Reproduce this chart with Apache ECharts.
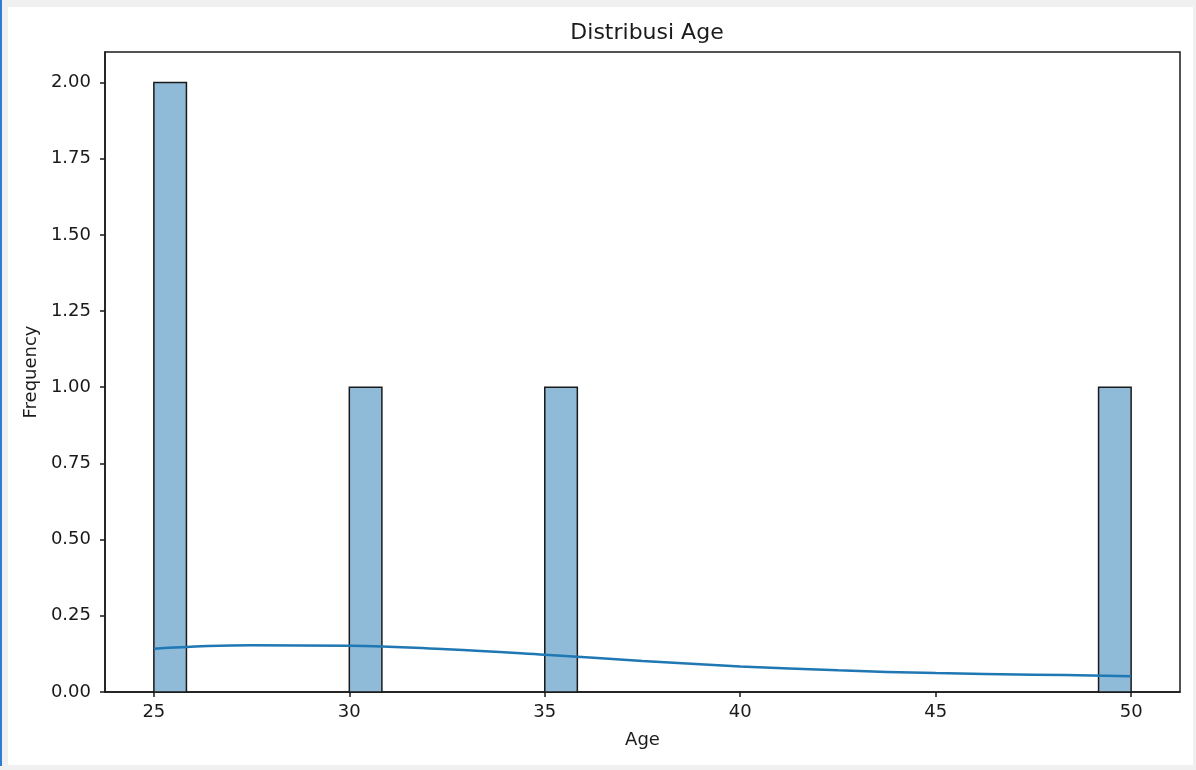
<!DOCTYPE html>
<html>
<head>
<meta charset="utf-8">
<script src="https://cdn.jsdelivr.net/npm/echarts@6/dist/echarts.min.js"></script>
<style>
  html, body { margin: 0; padding: 0; background: #f0f0f0; }
  #wrap { position: relative; width: 1196px; height: 770px; background: #f0f0f0; overflow: hidden; }
  #edge { position: absolute; left: 0; top: 0; width: 2px; height: 766px; background: #2f7dd1; }
  #panel { position: absolute; left: 8px; top: 7px; width: 1185px; height: 758px; background: #ffffff; }
  #chart { position: absolute; left: 0; top: 0; width: 1196px; height: 770px; }
</style>
</head>
<body>
<div id="wrap">
  <div id="edge"></div>
  <div id="panel"></div>
  <div id="chart"></div>
</div>
<script>
// Histogram bins (30 bins of width 25/30 between 25 and 50); only non-empty bins listed
const binLeft  = [25, 30, 35, 49.1667];
const binRight = [25.8333, 30.8333, 35.8333, 50];
const counts   = [2, 1, 1, 1];

// KDE curve
const kdeX = [25, 27.5, 30, 32.5, 35, 37.5, 40, 42.5, 45, 47.5, 50];
const kdeY = [0.142, 0.153, 0.152, 0.140, 0.122, 0.102, 0.084, 0.071, 0.062, 0.057, 0.052];

// Tick labels
const xTicks = [25, 30, 35, 40, 45, 50];
const yTicks = [0, 0.25, 0.5, 0.75, 1.0, 1.25, 1.5, 1.75, 2.0];

const titleText = 'Distribusi Age';
const xName = 'Age';
const yName = 'Frequency';

const FONT = 'DejaVu Sans';
const INK = '#1a1a1a';

const histData = binLeft.map((l, i) => [l, binRight[i], counts[i]]);
const kdeData = kdeX.map((x, i) => [x, kdeY[i]]);

const chart = echarts.init(document.getElementById('chart'), null, { renderer: 'canvas' });
chart.setOption({
  backgroundColor: 'transparent',
  animation: false,
  title: {
    text: titleText,
    left: 642,
    top: 17,
    textAlign: 'center',
    textStyle: { fontFamily: FONT, fontSize: 22, fontWeight: 'normal', color: INK }
  },
  grid: {
    left: 105, top: 52, width: 1075, height: 640,
    show: true, borderColor: INK, borderWidth: 1.5, backgroundColor: 'transparent',
    containLabel: false
  },
  xAxis: {
    type: 'value',
    min: 23.75, max: 51.25,
    name: xName,
    nameLocation: 'middle',
    nameGap: 39,
    nameTextStyle: { fontFamily: FONT, fontSize: 18, color: INK },
    axisLine: { show: true, onZero: false, lineStyle: { color: INK, width: 1.5 } },
    axisTick: { show: true, inside: false, length: 5, customValues: xTicks, lineStyle: { color: INK, width: 1.5 } },
    axisLabel: { show: true, margin: 11, customValues: xTicks, fontFamily: FONT, fontSize: 18, color: INK,
                 formatter: v => String(v) },
    splitLine: { show: false }
  },
  yAxis: {
    type: 'value',
    min: 0, max: 2.1,
    name: yName,
    nameLocation: 'middle',
    nameGap: 62,
    nameTextStyle: { fontFamily: FONT, fontSize: 18, color: INK },
    axisLine: { show: true, onZero: false, lineStyle: { color: INK, width: 1.5 } },
    axisTick: { show: true, inside: false, length: 5, customValues: yTicks, lineStyle: { color: INK, width: 1.5 } },
    axisLabel: { show: true, margin: 14, customValues: yTicks, fontFamily: FONT, fontSize: 18, color: INK,
                 formatter: v => Number(v).toFixed(2) },
    splitLine: { show: false }
  },
  series: [
    {
      type: 'custom',
      name: 'hist',
      data: histData,
      encode: { x: [0, 1], y: 2 },
      z: 2,
      renderItem: function (params, api) {
        const p0 = api.coord([api.value(0), api.value(2)]);
        const p1 = api.coord([api.value(1), 0]);
        return {
          type: 'rect',
          shape: { x: p0[0], y: p0[1], width: p1[0] - p0[0], height: p1[1] - p0[1] },
          style: { fill: '#8fbbd9', stroke: INK, lineWidth: 1.5 }
        };
      }
    },
    {
      type: 'line',
      name: 'kde',
      data: kdeData,
      smooth: 0.4,
      showSymbol: false,
      symbol: 'none',
      z: 3,
      lineStyle: { color: '#1f77b4', width: 2.5 }
    }
  ]
});
</script>
</body>
</html>
